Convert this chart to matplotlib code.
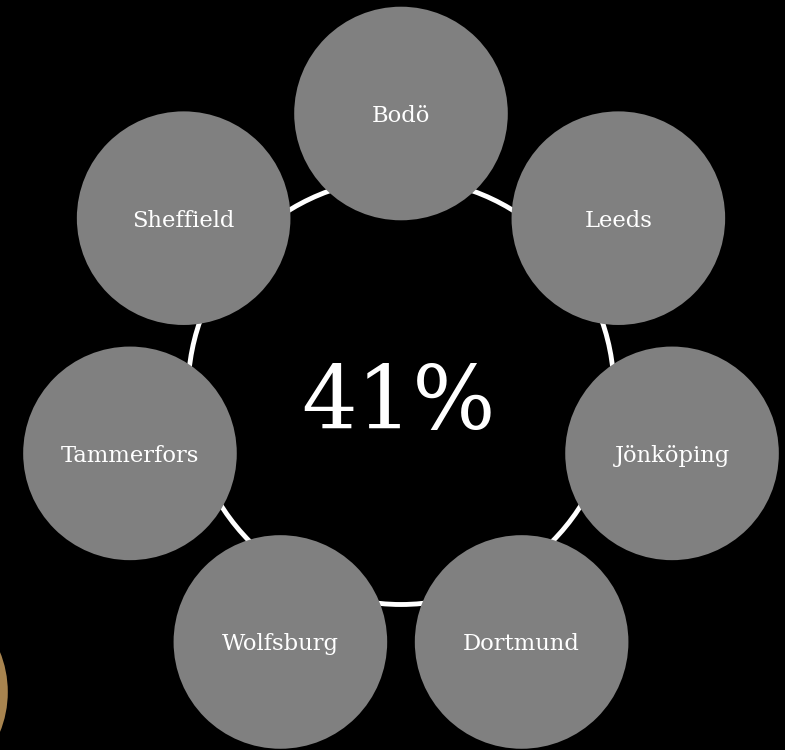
import numpy as np
import matplotlib
matplotlib.use("Agg")
import matplotlib.pyplot as plt
from matplotlib.patches import Circle

cities = ["Bodö", "Leeds", "Jönköping", "Dortmund", "Wolfsburg", "Tammerfors", "Sheffield"]
center_label = "41%"

W, H = 785, 750
cx, cy = 401, 391.5
ring_r = 213
orbit_r = 278
node_r = 106.8

fig = plt.figure(figsize=(W / 100, H / 100), dpi=100, facecolor="black")
ax = fig.add_axes([0, 0, 1, 1])
ax.set_facecolor("black")
ax.set_xlim(0, W)
ax.set_ylim(H, 0)
ax.set_aspect("equal")
ax.axis("off")

# white ring behind the nodes
ax.add_patch(Circle((cx, cy), ring_r, fill=False, ec="white", lw=3.5, zorder=1))

# partial accent circle at lower left
ax.add_patch(Circle((-99, 692), node_r, fc="#a8844f", ec="none", zorder=1))

n = len(cities)
for i, name in enumerate(cities):
    a = 2 * np.pi * i / n
    x = cx + orbit_r * np.sin(a)
    y = cy - orbit_r * np.cos(a)
    ax.add_patch(Circle((x, y), node_r, fc="#808080", ec="none", zorder=2))
    ax.text(x, y + 8.5, name, color="white", fontsize=16.3, family="DejaVu Serif",
            ha="center", va="baseline", zorder=3)

ax.text(cx - 2, 429, center_label, color="white", fontsize=63, family="DejaVu Serif",
        ha="center", va="baseline", zorder=3)

fig.savefig("out.png", dpi=100, facecolor="black")
